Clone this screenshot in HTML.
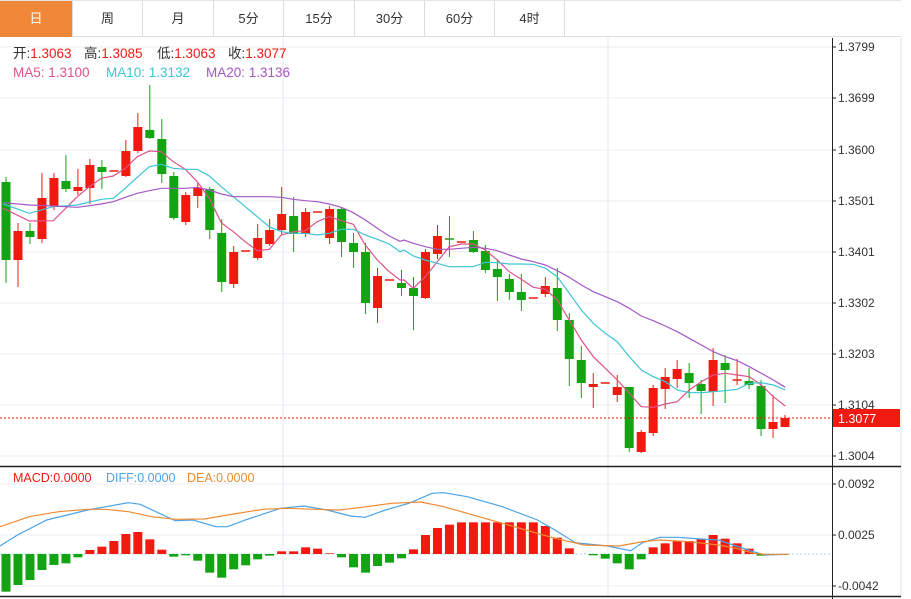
<!DOCTYPE html>
<html><head><meta charset="utf-8"><style>
body{margin:0;width:911px;height:599px;background:#fff;overflow:hidden;font-family:"Liberation Sans","Noto Sans CJK SC",sans-serif;}
.tabs{position:absolute;left:0;top:0;width:901px;height:37px;border-bottom:1px solid #ddd;border-top:1px solid #e6e6e6;box-sizing:border-box}
.tab{position:absolute;top:0;height:36px;line-height:36px;text-align:center;font-size:13px;color:#333;border-right:1px solid #ddd;box-sizing:border-box}
svg{position:absolute;left:0;top:0}
</style></head><body>
<div class="tabs">
<div class="tab" style="left:0;width:73px;background:#f0883a;color:#fff">日</div>
<div class="tab" style="left:73px;width:70px">周</div>
<div class="tab" style="left:143px;width:71px">月</div>
<div class="tab" style="left:214px;width:70px">5分</div>
<div class="tab" style="left:284px;width:71px">15分</div>
<div class="tab" style="left:355px;width:70px">30分</div>
<div class="tab" style="left:425px;width:70px">60分</div>
<div class="tab" style="left:495px;width:70px">4时</div>
</div>
<svg id="s" width="911" height="599" xmlns="http://www.w3.org/2000/svg" font-family="Liberation Sans, Noto Sans CJK SC, sans-serif"></svg>
<script>
var S=document.getElementById('s');var h='';
var R='#f01a10',G='#13a313';
[47,98,150,201,252,303,354,405,456].forEach(function(y){h+='<line x1="0" x2="832" y1="'+y+'" y2="'+y+'" stroke="#e8ecf0"/>';});
[484,535,586].forEach(function(y){h+='<line x1="0" x2="832" y1="'+y+'" y2="'+y+'" stroke="#e8ecf0"/>';});
[283,608].forEach(function(x){h+='<line x1="'+x+'" x2="'+x+'" y1="38" y2="597" stroke="#e3e7ec"/>';});
h+='<line x1="901" x2="901" y1="38" y2="597" stroke="#e3e3e3"/>';
h+='<line x1="832.5" x2="832.5" y1="38" y2="599" stroke="#222"/>';
h+='<line x1="0" x2="901" y1="466.5" y2="466.5" stroke="#222" stroke-width="1.5"/>';
h+='<line x1="0" x2="901" y1="596.5" y2="596.5" stroke="#222" stroke-width="1.5"/>';
var labs=[[47,'1.3799'],[98,'1.3699'],[150,'1.3600'],[201,'1.3501'],[252,'1.3401'],[303,'1.3302'],[354,'1.3203'],[405,'1.3104'],[456,'1.3004'],[484,'0.0092'],[535,'0.0025'],[586,'-0.0042']];
labs.forEach(function(l){h+='<line x1="832" x2="836" y1="'+l[0]+'" y2="'+l[0]+'" stroke="#222"/><text x="838" y="'+(l[0]+4)+'" font-size="12" fill="#333">'+l[1]+'</text>';});
var C=[[182,260,177,283],[260,231,223,287],[231,237,223,244],[239,198,173,243],[206,178,173,210],[181,189,155,192],[191,187,169,195],[188,165,159,204],[167,172,160,189],[171,171,171,171],
[176,151,140,177],[151,127,113,153],[130,138,85,139],[139,174,119,183],[176,218,172,220],[222,195,192,225],[196,188,183,208],[189,230,187,239],[233,282,219,292],[284,252,246,288],
[251,251,251,251],[258,238,224,260],[244,230,219,246],[230,214,187,235],[216,234,197,252],[234,212,208,237],[212,212,212,212],[238,209,206,244],[209,242,208,257],[243,252,233,268],
[252,303,243,314],[308,276,268,323],[280,280,280,280],[283,288,270,296],[288,296,277,330],[298,252,249,299],[254,236,225,259],[239,239.5,216,257],[242,242,242,242],[240,252,231,253],
[251,270,245,273],[269,277,260,301],[279,292,274,300],[292,300,274,311],[298,298,298,298],[294,286,277,297],[288,320,268,331],[320,359,313,386],[360,383,346,398],[387,384,373,408],
[383,383,383,383],[395,387,375,402],[387,448,387,452],[452,432,430,453],[433,388,385,436],[389,377,368,409],[379,369,360,388],[373,383,363,398],[384,391,380,414],[392,360,348,406],
[363,370,355,403],[380,380,359,385],[381,385,368,389],[386,429,380,436],[429,422,395,438],[427,418,415,427]];
C.forEach(function(c,i){var x=6+i*11.985;
var col=(c[1]<c[0])?R:(c[1]>c[0]?G:(i==37?G:R));
h+='<line x1="'+x+'" x2="'+x+'" y1="'+c[2]+'" y2="'+c[3]+'" stroke="'+col+'" stroke-width="1"/>';
var t=Math.min(c[0],c[1]),b=Math.max(c[0],c[1]);if(b-t<1.5){t-=0.75;b=t+1.5;}
h+='<rect x="'+(x-4.5)+'" y="'+t+'" width="9" height="'+(b-t)+'" fill="'+col+'"/>';});
function pl(a,ox,oy,sx,sy){var p=[];for(var i=0;i<a.length;i+=2)p.push((ox+a[i]/sx).toFixed(1)+','+(oy+a[i+1]/sy).toFixed(1));return p.join(' ');}
function two(a,b,col){h+='<polyline points="'+pl(a,0,80,3,3)+' '+pl(b,400,200,3,3)+'" fill="none" stroke="'+col+'" stroke-width="1.2"/>';}
two([10,385,88,423,160,422,232,350,268,320,304,295,340,288,376,265,412,230,448,213,484,215,520,245,556,268,592,305,628,355,664,428,700,455,736,485,772,512,808,508,844,465,880,455,916,452,952,425,988,410,1024,422,1060,433,1096,495,1132,540,1168,575,1200,600],
[12,240,40,265,76,230,112,185,148,140,184,132,220,132,256,150,292,180,328,215,364,238,400,262,436,268,472,300,508,360,544,420,580,470,616,505,652,540,688,580,724,620,760,622,796,612,832,605,868,570,904,545,940,525,976,520,1012,525,1048,530,1084,555,1120,590,1156,618],'#e0508a');
two([10,372,88,400,160,380,232,375,304,358,340,355,376,325,412,292,448,260,484,253,520,265,556,268,592,268,628,288,664,320,700,350,736,380,772,410,808,440,844,455,880,460,916,460,952,465,988,460,1024,448,1060,448,1096,465,1132,478,1168,492,1200,515],
[12,150,40,168,76,180,112,190,148,200,184,200,220,200,256,187,292,188,328,192,364,192,400,193,436,205,472,230,508,280,544,330,580,370,616,400,652,425,688,470,724,510,760,530,796,545,832,570,868,578,904,578,940,575,976,572,1012,568,1048,550,1084,548,1120,555,1156,570],'#3cc4d6');
two([10,368,88,375,160,378,232,382,304,372,340,365,376,352,412,340,448,332,484,325,520,325,556,325,592,322,628,330,664,342,700,350,736,350,772,350,808,350,844,352,880,358,916,362,952,365,988,372,1024,382,1060,398,1096,420,1132,445,1168,468,1200,484],
[12,120,40,130,76,140,112,148,148,148,184,145,220,142,256,145,292,152,328,165,364,177,400,185,436,195,472,212,508,232,544,255,580,275,616,290,652,305,688,325,724,348,760,362,796,378,832,395,868,415,904,435,940,455,976,470,1012,482,1048,500,1084,520,1120,540,1156,562],'#a657c6');
h+='<line x1="0" x2="832" y1="418" y2="418" stroke="'+R+'" stroke-dasharray="2,2"/>';
h+='<rect x="833" y="409" width="67" height="18" fill="'+R+'"/><text x="838" y="423" font-size="12.5" fill="#fff">1.3077</text>';
var M=[395,375,360,330,315,310,292,270,260,243,222,216,238,269,290,286,302,338,353,328,316,298,287,274,274,262,266,280,292,322,338,318,308,295,268,225,204,194,187,187,187,187,187,187,187,198,233,265,283,286,296,310,328,298,262,250,243,243,237,225,236,250,266,287,283,282];
h+='<line x1="0" x2="832" y1="554" y2="554" stroke="#9fd8e0" stroke-dasharray="2,2"/>';
M.forEach(function(v,i){var x=6+i*11.985;var y=460+v/3;var t=Math.min(y,554),b=Math.max(y,554);if(b-t<0.5)return;
h+='<rect x="'+(x-4.5)+'" y="'+t+'" width="9" height="'+(b-t)+'" fill="'+(y<554?R:G)+'"/>';});
h+='<polyline points="'+pl([0,258,30,225,80,180,150,150,220,128,240,133,300,182,330,180,370,200,390,200,420,180,480,145,520,138,560,150,600,168,625,172,660,150,700,130,740,100,760,98,800,110,860,140,920,180,950,210,985,248,1040,258,1080,272,1100,248,1130,232,1160,232,1200,237,1230,240,1260,258,1290,275,1310,285,1350,283],0,460,1.712,3)+'" fill="none" stroke="#4aa3e8" stroke-width="1.2"/>';
h+='<polyline points="'+pl([0,200,50,170,100,155,150,148,180,148,220,155,260,170,300,178,350,177,400,162,450,148,490,145,540,148,580,150,620,142,670,130,720,126,760,140,820,170,860,190,900,210,950,235,1000,255,1060,258,1100,245,1130,240,1180,245,1230,255,1260,265,1290,280,1310,283,1350,283],0,460,1.712,3)+'" fill="none" stroke="#f08a30" stroke-width="1.2"/>';
h+='<text x="13" y="58" font-size="13.5"><tspan x="13" fill="#333">开:</tspan><tspan fill="'+R+'">1.3063</tspan><tspan x="84" fill="#333">高:</tspan><tspan fill="'+R+'">1.3085</tspan><tspan x="157" fill="#333">低:</tspan><tspan fill="'+R+'">1.3063</tspan><tspan x="228" fill="#333">收:</tspan><tspan fill="'+R+'">1.3077</tspan></text>';
h+='<text y="77" font-size="13.5"><tspan x="13" fill="#e0508a">MA5: 1.3100</tspan><tspan x="106" fill="#3cc4d6">MA10: 1.3132</tspan><tspan x="206" fill="#a657c6">MA20: 1.3136</tspan></text>';
h+='<text y="482" font-size="12.5"><tspan x="13" fill="'+R+'">MACD:0.0000</tspan><tspan x="106" fill="#4aa3e8">DIFF:0.0000</tspan><tspan x="187" fill="#f08a30">DEA:0.0000</tspan></text>';
S.innerHTML=h;
</script>
</body></html>
